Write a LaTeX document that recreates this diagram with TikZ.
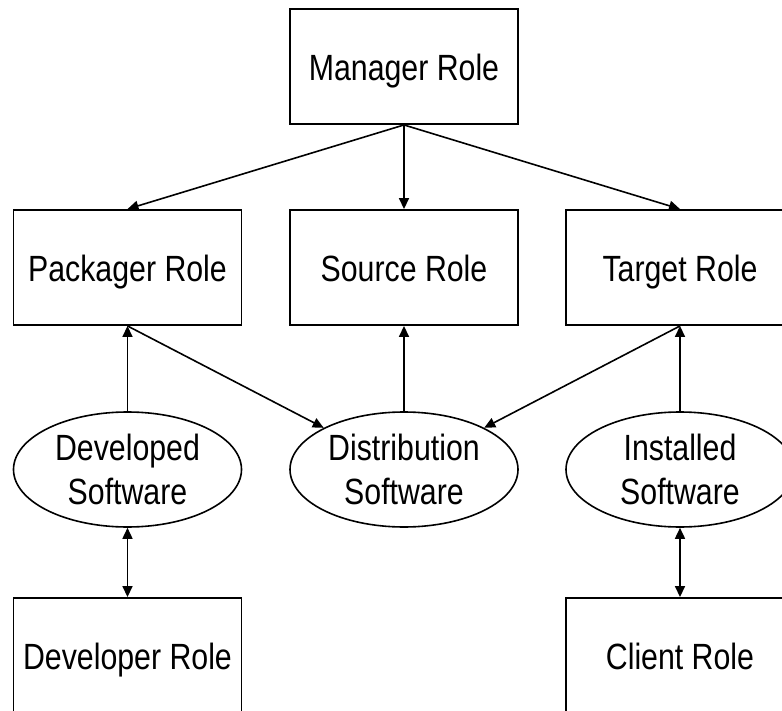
\documentclass[tikz,border=0pt]{standalone}
\usepackage{fontspec}
\setmainfont[FakeStretch=0.83]{Liberation Sans}
\usetikzlibrary{arrows.meta,shapes.geometric}
\tikzset{
  rolebox/.style={draw, line width=1.9pt, minimum width=228pt, minimum height=115pt, inner sep=0pt, text height=30pt, text depth=2pt, font=\fontsize{36.5}{44}\selectfont},
  swell/.style={draw, ellipse, line width=1.6pt, minimum width=228pt, minimum height=115pt, inner sep=0pt, align=center, font=\fontsize{36.5}{44}\selectfont},
  arr/.style={line width=1.6pt, -{Triangle[length=11pt,width=10pt]}},
  darr/.style={line width=1.6pt, {Triangle[length=11pt,width=10pt]}-{Triangle[length=11pt,width=10pt]}}
}
\begin{document}
\begin{tikzpicture}[x=1pt,y=-1pt]
\clip (0,0) rectangle (782,711);
\fill[white] (0,0) rectangle (782,711);
\node[rolebox] (man) at (404,66.5) {Manager Role};
\node[rolebox] (pack) at (127.5,267.5) {Packager Role};
\node[rolebox] (src) at (404,267.5) {Source Role};
\node[rolebox] (tgt) at (680,267.5) {Target Role};
\node[swell] (devsw) at (127.5,469.5) {Developed\\Software};
\node[swell] (dist) at (404,469.5) {Distribution\\Software};
\node[swell] (inst) at (680,469.5) {Installed\\Software};
\node[rolebox] (dev) at (127.5,655.5) {Developer Role};
\node[rolebox] (cli) at (680,655.5) {Client Role};
\draw[arr] (man.south) -- (pack.north);
\draw[arr] (man.south) -- (src.north);
\draw[arr] (man.south) -- (tgt.north);
\draw[arr] (devsw.north) -- (pack.south);
\draw[arr] (dist.north) -- (src.south);
\draw[arr] (inst.north) -- (tgt.south);
\draw[arr] (pack.south) -- (dist);
\draw[arr] (tgt.south) -- (dist);
\draw[darr] (devsw.south) -- (dev.north);
\draw[darr] (inst.south) -- (cli.north);
\end{tikzpicture}
\end{document}
